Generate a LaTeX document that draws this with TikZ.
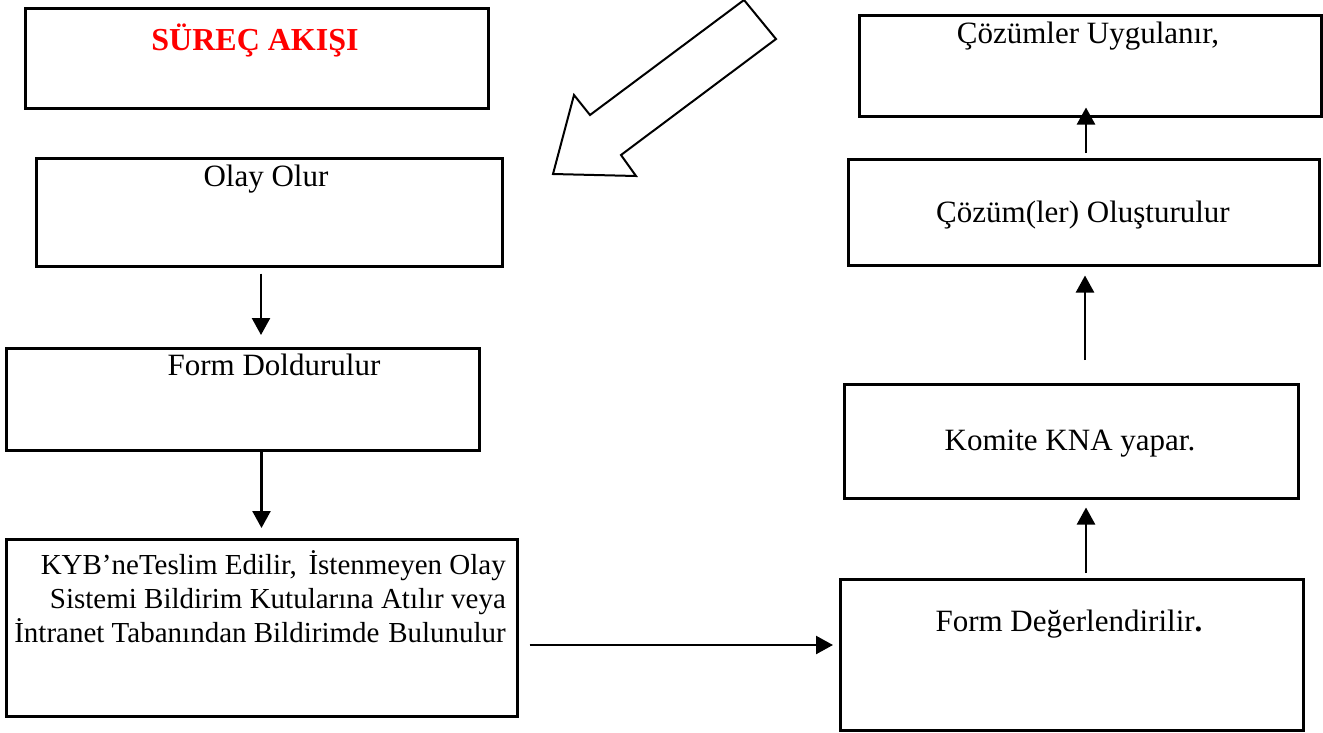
\documentclass[tikz,border=0pt]{standalone}
\usepackage{fontspec}
\setmainfont{Liberation Serif}
\usetikzlibrary{arrows.meta}
\begin{document}
\begin{tikzpicture}[x=1pt,y=-1pt,
  box/.style={draw, line width=2.5pt, inner sep=0pt, anchor=north west},
  lbl/.style={inner sep=0pt, anchor=base, font=\fontsize{31}{37}\selectfont},
  lblr/.style={inner sep=0pt, anchor=base east, font=\fontsize{29}{35}\selectfont},
  arr/.style={line width=2.4pt, -{Triangle[length=17pt,width=18pt]}}]
\useasboundingbox (0,0) rectangle (1323,732);
\fill[white] (0,0) rectangle (1323,732);

% boxes
\node[box, minimum width=463pt, minimum height=100pt] (b1) at (24,7) {};
\node[box, minimum width=466pt, minimum height=108pt] (b2) at (35,157) {};
\node[box, minimum width=473pt, minimum height=102pt] (b3) at (5,347) {};
\node[box, minimum width=511pt, minimum height=177pt] (b4) at (5,538) {};
\node[box, minimum width=463pt, minimum height=151pt] (b5) at (839,578) {};
\node[box, minimum width=454pt, minimum height=114pt] (b6) at (843,383) {};
\node[box, minimum width=471pt, minimum height=106pt] (b7) at (847,158) {};
\node[box, minimum width=462pt, minimum height=101pt] (b8) at (858,14) {};

% texts
\node[inner sep=0pt, anchor=base, text=red, font=\fontsize{32}{38}\selectfont\bfseries] (t1) at (255,50) {SÜREÇ AKIŞI};
\node[lbl] (t2) at (266,186) {Olay Olur};
\node[lbl] (t3) at (274,375) {Form Doldurulur};
\node[lblr] (t4a) at (506,574) {KYB’neTeslim Edilir,\hspace{0.4em}İstenmeyen Olay};
\node[lblr] (t4b) at (506,608) {Sistemi Bildirim Kutularına Atılır veya};
\node[lblr] (t4c) at (506,642) {İntranet Tabanından Bildirimde\hspace{0.3em}Bulunulur};
\node[lbl] (t5) at (1069,631) {Form Değerlendirilir\textbf{.}};
\node[lbl] (t6) at (1070,450) {Komite KNA yapar.};
\node[lbl] (t7) at (1083,222) {Çözüm(ler) Oluşturulur};
\node[lbl] (t8) at (1088,43) {Çözümler Uygulanır,};

% connectors
\draw[arr, shorten <=6pt, shorten >=12pt] (b2.south -| 261,0) -- (b3.north -| 261,0);
\draw[arr, shorten <=0pt, shorten >=10pt] (b3.south -| 261.5,0) -- (b4.north -| 261.5,0);
\draw[arr, shorten <=11pt, shorten >=6pt] (b4.east |- 0,645) -- (b5.west |- 0,645);
\draw[arr, shorten <=5pt, shorten >=8pt] (b5.north -| 1086,0) -- (b6.south -| 1086,0);
\draw[arr, shorten <=23pt, shorten >=9pt] (b6.north -| 1085,0) -- (b7.south -| 1085,0);
\draw[arr, shorten <=5pt, shorten >=-10pt] (b7.north -| 1086,0) -- (b8.south -| 1086,0);

% block arrow
\draw[line width=2pt, line join=miter] (744,0) -- (776,39) -- (621,155) -- (636,176) -- (553,174) -- (574,95) -- (590,115) -- cycle;
\end{tikzpicture}
\end{document}
